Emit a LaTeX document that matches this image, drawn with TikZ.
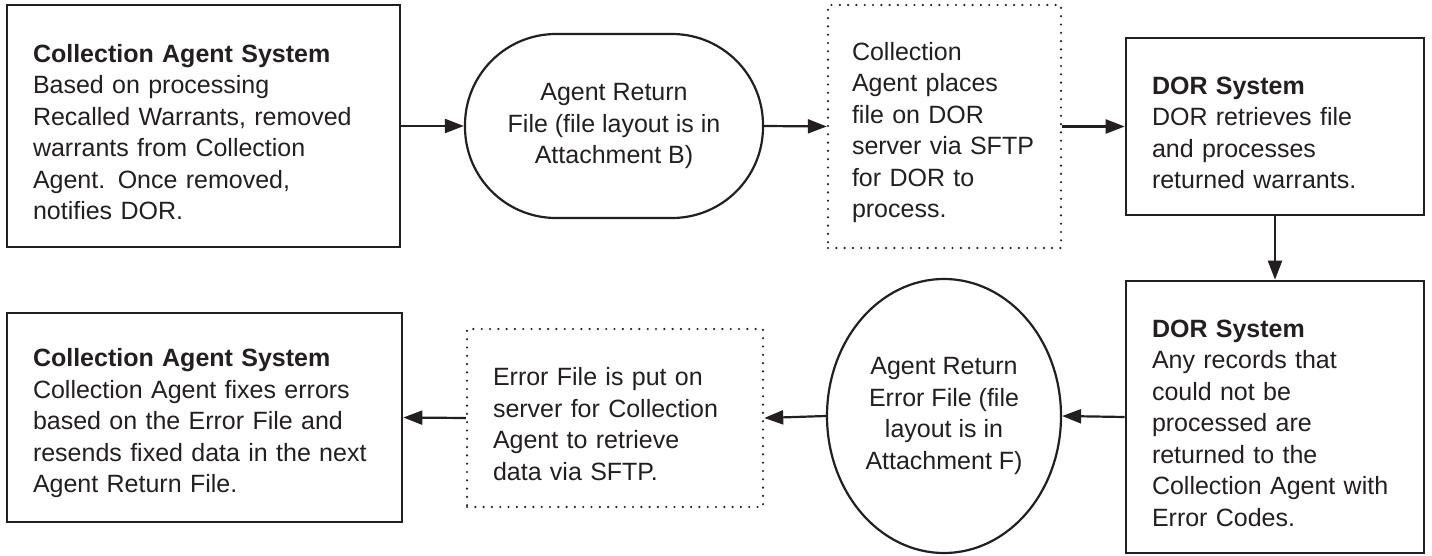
\documentclass[tikz,border=0pt]{standalone}
\usepackage{fontspec}
\setmainfont{Liberation Sans}
\usepackage{tikz}
\usetikzlibrary{arrows.meta, shapes.geometric}
\definecolor{inkColor}{RGB}{35,31,32}
\tikzstyle{canvas} = [x = 1pt, y = -1pt, color=inkColor, font=\fontsize{25pt}{31.5pt}\selectfont]
\tikzstyle{textBlock} = [align=left, inner ysep=0pt, execute at begin node={\rule{0pt}{30pt}}]
\tikzstyle{systemBox} = [draw, line width=2.6pt, textBlock, inner xsep=26pt]
\tikzstyle{transferBox} = [draw, dash pattern=on 0pt off 8.3pt, line cap=round, line width=2.4pt, textBlock, inner xsep=26pt]
\tikzstyle{fileStadium} = [draw, line width=2.2pt, align=center, inner xsep=10pt, rounded corners=91pt, execute at begin node={\rule{0pt}{30pt}}]
\tikzstyle{fileEllipse} = [draw, ellipse, line width=2.2pt, align=center, inner sep=0pt, execute at begin node={\rule{0pt}{30pt}}]
\tikzstyle{flowArrow} = [-{Triangle[length=19pt, width=14pt]}, line width=2.2pt]

\begin{document}
\begin{tikzpicture}[canvas]
  \useasboundingbox (0,0) rectangle (1432,556);

  % top row
  \node [systemBox, minimum width=393pt, minimum height=242pt, text width=341pt] (agentSys) at (203.5,126)
    {\textbf{Collection Agent System}\\Based on processing\\Recalled Warrants, removed\\warrants from Collection\\Agent. Once removed,\\notifies DOR.};
  \node [fileStadium, minimum width=298pt, minimum height=184pt] (returnFile) at (614,126)
    {Agent Return\\File (file layout is in\\Attachment B)};
  \node [transferBox, minimum width=233pt, minimum height=243pt, text width=185pt, inner xsep=24pt] (placeFile) at (944.5,126.5)
    {Collection\\Agent places\\file on DOR\\server via SFTP\\for DOR to\\process.};
  \node [systemBox, minimum width=298pt, minimum height=177pt, text width=246pt] (dorSys) at (1275,126.5)
    {\textbf{DOR System}\\DOR retrieves file\\and processes\\returned warrants.};

  % bottom row
  \node [systemBox, minimum width=298pt, minimum height=272pt, text width=246pt] (dorErr) at (1275,417)
    {\textbf{DOR System}\\Any records that\\could not be\\processed are\\returned to the\\Collection Agent with\\Error Codes.};
  \node [fileEllipse, minimum width=234pt, minimum height=274pt] (errFile) at (944,416)
    {Agent Return\\Error File (file\\layout is in\\Attachment F)};
  \node [transferBox, minimum width=296pt, minimum height=178pt, text width=244pt] (errPut) at (615,418)
    {Error File is put on\\server for Collection\\Agent to retrieve\\data via SFTP.};
  \node [systemBox, minimum width=395pt, minimum height=209pt, text width=343pt] (agentFix) at (204.5,417.5)
    {\textbf{Collection Agent System}\\Collection Agent fixes errors\\based on the Error File and\\resends fixed data in the next\\Agent Return File.};

  % connectors
  \draw [flowArrow] (agentSys.east) -- (returnFile.west);
  \draw [flowArrow] (returnFile.east) -- (placeFile.west);
  \draw [flowArrow] (placeFile.east) -- (dorSys.west);
  \draw [flowArrow] (dorSys.south) -- (dorErr.north);
  \draw [flowArrow] (dorErr.west) -- (errFile.east);
  \draw [flowArrow] (errFile.west) -- (errPut.east);
  \draw [flowArrow] (errPut.west) -- (agentFix.east);
\end{tikzpicture}
\end{document}
